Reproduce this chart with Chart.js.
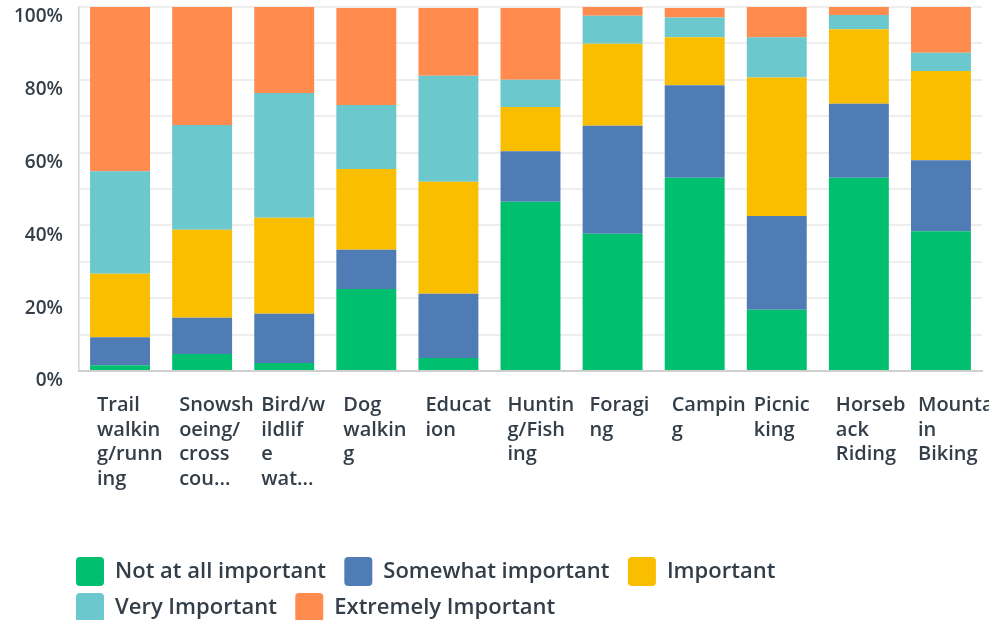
<!DOCTYPE html>
<html>
<head>
<meta charset="utf-8">
<script src="https://cdn.jsdelivr.net/npm/chart.js@4/dist/chart.umd.min.js"></script>
<style>
  html, body { margin: 0; padding: 0; background: #fff; overflow: hidden; }
  #wrap { width: 989px; height: 632px; position: relative; }
</style>
</head>
<body>
<div id="wrap"><canvas id="importanceChart"></canvas></div>
<script>
// categories (full names) and how the tick labels wrap in the picture
const categories = ['Trail walking/running', 'Snowshoeing/cross country skiing', 'Bird/wildlife watching',
  'Dog walking', 'Education', 'Hunting/Fishing', 'Foraging', 'Camping', 'Picnicking',
  'Horseback Riding', 'Mountain Biking'];
const tickLabels = [
  ['Trail', 'walkin', 'g/runn', 'ing'],
  ['Snowsh', 'oeing/', 'cross', 'cou...'],
  ['Bird/w', 'ildlif', 'e', 'wat...'],
  ['Dog', 'walkin', 'g'],
  ['Educat', 'ion'],
  ['Huntin', 'g/Fish', 'ing'],
  ['Foragi', 'ng'],
  ['Campin', 'g'],
  ['Picnic', 'king'],
  ['Horseb', 'ack', 'Riding'],
  ['Mounta', 'in', 'Biking']
];

// percent of respondents per answer
const notAtAll   = [1.6, 4.7, 2.2, 22.5, 3.6, 46.5, 37.7, 53.1, 16.8, 53.1, 38.4];
const somewhat   = [7.7, 9.9, 13.5, 10.8, 17.6, 13.9, 29.7, 25.4, 25.8, 20.3, 19.5];
const important  = [17.4, 24.2, 26.4, 22.2, 30.8, 12.1, 22.5, 13.2, 38.0, 20.5, 24.5];
const veryImp    = [28.2, 28.8, 34.3, 17.6, 29.1, 7.5, 7.7, 5.4, 11.1, 3.9, 5.0];
const extremely  = [45.1, 32.4, 23.6, 26.6, 18.6, 19.7, 2.4, 2.6, 8.3, 2.2, 12.6];

const yTicks = [0, 20, 40, 60, 80, 100];

const textColor = '#333e48';
Chart.defaults.font.family = "'Open Sans', sans-serif";
Chart.defaults.color = textColor;

// legend starts a bit left of the plot area, like the original
const legendShift = {
  id: 'legendShift',
  afterLayout(chart) {
    chart.legend.left = 69;
  }
};

const ctx = document.getElementById('importanceChart').getContext('2d');
const chart = new Chart(ctx, {
  type: 'bar',
  data: {
    labels: categories,
    datasets: [
      { label: 'Not at all important', data: notAtAll, backgroundColor: '#00bf6f' },
      { label: 'Somewhat important', data: somewhat, backgroundColor: '#507cb6' },
      { label: 'Important', data: important, backgroundColor: '#f9be00' },
      { label: 'Very Important', data: veryImp, backgroundColor: '#6bc8cd' },
      { label: 'Extremely Important', data: extremely, backgroundColor: '#ff8b4f' }
    ]
  },
  plugins: [legendShift],
  options: {
    responsive: true,
    maintainAspectRatio: false,
    animation: false,
    layout: { padding: { left: 0, right: 7, top: 0, bottom: 0 } },
    datasets: {
      bar: { barPercentage: 0.73, categoryPercentage: 1, borderWidth: 0 }
    },
    scales: {
      x: {
        stacked: true,
        grid: { display: false, drawTicks: false },
        border: { display: true, color: '#cfcfcf', width: 2 },
        ticks: {
          autoSkip: false,
          maxRotation: 0,
          minRotation: 0,
          align: 'start',
          labelOffset: -23,
          padding: 22,
          color: textColor,
          font: { size: 20, weight: '600', lineHeight: 1.235 },
          callback: (v, i) => tickLabels[i]
        },
        afterFit: (scale) => {
          scale.height = 179;
          scale.paddingLeft = 0;
          scale.paddingRight = 0;
        }
      },
      y: {
        stacked: true,
        min: 0,
        max: 100,
        grid: {
          drawTicks: false,
          color: (c) => c.tick && c.tick.value === 0 ? '#cfcfcf' : '#eeeeee',
          lineWidth: 2
        },
        border: { display: true, color: '#d4d4d4', width: 1.5 },
        ticks: {
          stepSize: 10,
          padding: 16,
          labelOffset: 10,
          color: textColor,
          font: { size: 19, weight: '600' },
          callback: (v) => yTicks.includes(v) ? v + '%' : ''
        },
        afterFit: (scale) => {
          scale.width = 79;
          scale.paddingTop = 7;
          scale.paddingBottom = 0;
        }
      }
    },
    plugins: {
      tooltip: { enabled: false },
      legend: {
        position: 'bottom',
        align: 'start',
        fullSize: false,
        labels: {
          boxWidth: 28,
          boxHeight: 29,
          padding: 7,
          useBorderRadius: true,
          borderRadius: 4,
          color: textColor,
          font: { size: 22, weight: '600' },
          generateLabels: (c) => {
            const items = Chart.defaults.plugins.legend.labels.generateLabels(c);
            items.forEach(it => { it.text = it.text + '  '; it.lineWidth = 0; });
            return items;
          }
        }
      }
    }
  }
});
</script>
</body>
</html>
